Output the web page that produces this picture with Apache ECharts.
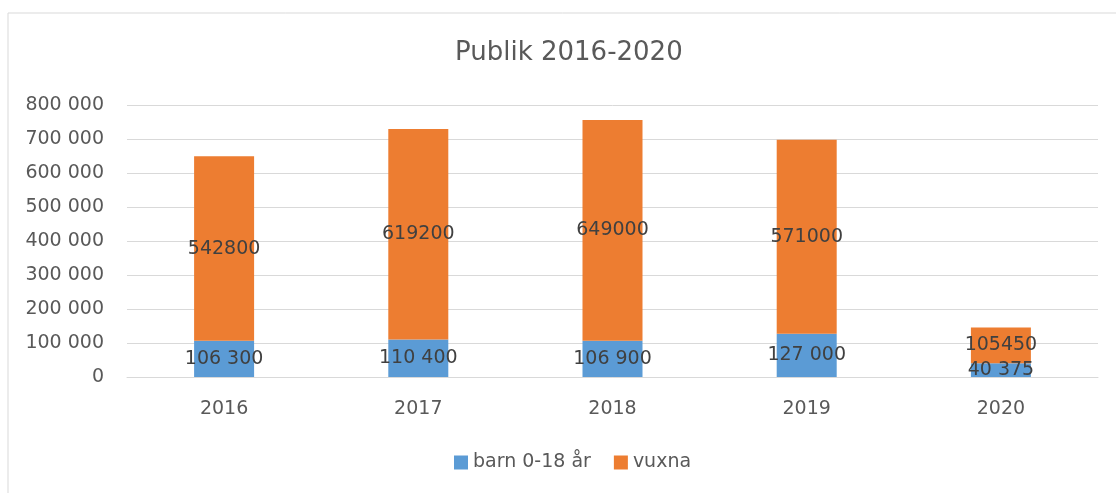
<!DOCTYPE html>
<html>
<head>
<meta charset="utf-8">
<script src="https://cdn.jsdelivr.net/npm/echarts@6/dist/echarts.min.js"></script>
<style>
  html, body { margin: 0; padding: 0; background: #fff; }
  #chart { width: 1116px; height: 493px; }
</style>
</head>
<body>
<div id="chart"></div>
<script>
// data
var years = ['2016', '2017', '2018', '2019', '2020'];
var barn = [106300, 110400, 106900, 127000, 40375];
var vuxna = [542800, 619200, 649000, 571000, 105450];

function spaced(v) {
    return String(v).replace(/\B(?=(\d{3})+(?!\d))/g, ' ');
}

var chart = echarts.init(document.getElementById('chart'));
var font = 'DejaVu Sans';

chart.setOption({
    backgroundColor: '#fff',
    textStyle: { fontFamily: font },
    graphic: [
        {
            type: 'rect',
            shape: { x: 8, y: 13, width: 1200, height: 600 },
            style: { fill: 'none', stroke: '#d9d9d9', lineWidth: 1 },
            silent: true
        },
        {
            type: 'text',
            left: 455, top: 40,
            style: { text: 'Publik 2016-2020', font: '26px "DejaVu Sans"', fill: '#595959' }
        }
    ],
    legend: {
        bottom: 16,
        left: 449,
        itemWidth: 14,
        itemHeight: 14,
        itemGap: 23,
        icon: 'rect',
        textStyle: { fontSize: 19, color: '#595959', fontFamily: font },
        data: ['barn 0-18 år', 'vuxna']
    },
    grid: { left: 127, right: 18, top: 105, bottom: 116 },
    xAxis: {
        type: 'category',
        data: years,
        axisLine: { lineStyle: { color: '#d9d9d9', width: 1 } },
        axisTick: { show: false },
        axisLabel: { fontSize: 19, color: '#595959', margin: 23, fontFamily: font }
    },
    yAxis: {
        type: 'value',
        min: 0,
        max: 800000,
        interval: 100000,
        axisLine: { show: false },
        axisTick: { show: false },
        splitLine: { lineStyle: { color: '#d9d9d9', width: 1 } },
        axisLabel: {
            fontSize: 19, color: '#595959', margin: 23, fontFamily: font,
            formatter: function (v) { return spaced(v); }
        }
    },
    series: [
        {
            name: 'barn 0-18 år',
            type: 'bar',
            stack: 'a',
            barWidth: 60,
            itemStyle: { color: '#5b9bd5' },
            label: {
                show: true, position: 'inside', fontSize: 19, color: '#404040', fontFamily: font,
                formatter: function (p) { return spaced(p.value); }
            },
            data: barn
        },
        {
            name: 'vuxna',
            type: 'bar',
            stack: 'a',
            barWidth: 60,
            itemStyle: { color: '#ed7d31' },
            label: {
                show: true, position: 'inside', fontSize: 19, color: '#404040', fontFamily: font
            },
            data: vuxna
        }
    ]
});
</script>
</body>
</html>
